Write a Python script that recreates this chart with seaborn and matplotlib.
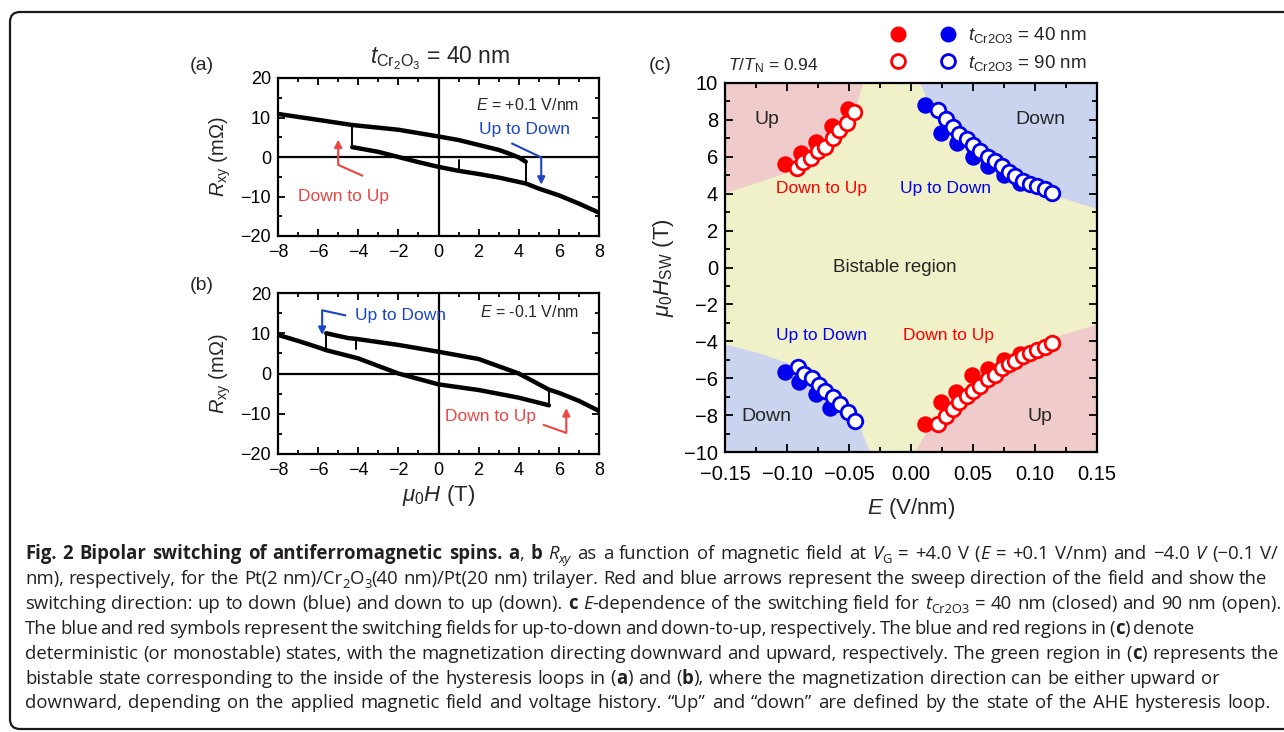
import re
import numpy as np
import pandas as pd
import matplotlib
matplotlib.use("Agg")
import matplotlib.pyplot as plt
import seaborn as sns
from matplotlib.lines import Line2D
from matplotlib.legend_handler import HandlerTuple
from matplotlib.patches import FancyBboxPatch
from matplotlib.transforms import IdentityTransform
from matplotlib.ticker import MultipleLocator
from matplotlib.font_manager import FontProperties

# ---------------- data: panel (a)  E = +0.1 V/nm ----------------
a_upper_H = [-8, -6, -4.3, -2, 0, 1, 2, 3, 3.5, 4, 4.35]
a_upper_R = [10.9, 9.4, 8.1, 6.9, 5.2, 4.3, 3.05, 1.8, 0.9, -0.1, -1.2]
a_lower_H = [-4.3, -3, -2, -1, 0, 1, 2, 3, 4.35, 5, 6, 7, 8]
a_lower_R = [2.5, 1.3, 0.0, -1.3, -2.5, -3.5, -4.3, -5.2, -6.7, -8.0, -9.7, -11.8, -14.1]
a_spike_H = [1, 1]
a_spike_R = [-3.5, -0.7]

# ---------------- data: panel (b)  E = -0.1 V/nm ----------------
b_upper_H = [-5.6, -4.5, -4.1, -2, 0, 2, 4, 5.5, 6, 7, 8]
b_upper_R = [10.0, 8.8, 8.6, 7.1, 5.4, 3.6, 0.0, -4.0, -4.8, -6.8, -9.3]
b_lower_H = [-8, -7, -6, -5.6, -4, -2, 0, 2, 4, 5.5]
b_lower_R = [9.6, 8.1, 6.5, 5.8, 3.75, 0.0, -2.7, -4.1, -6.0, -7.9]
b_spike_H = [-4.1, -4.1]
b_spike_R = [8.6, 6.1]

# ---------------- data: panel (c) switching fields ----------------
top_red40_E = [-0.102, -0.089, -0.077, -0.064, -0.051]
top_red40_H = [5.6, 6.2, 6.8, 7.65, 8.6]
top_red90_E = [-0.092, -0.087, -0.081, -0.075, -0.069, -0.063, -0.058, -0.052, -0.046]
top_red90_H = [5.4, 5.7, 5.95, 6.3, 6.55, 7.0, 7.45, 7.85, 8.45]
top_blue40_E = [0.011, 0.024, 0.037, 0.050, 0.062, 0.075, 0.088]
top_blue40_H = [8.8, 7.3, 6.75, 6.0, 5.5, 5.0, 4.6]
top_blue90_E = [0.022, 0.028, 0.034, 0.039, 0.045, 0.050, 0.056, 0.062, 0.068,
                0.073, 0.079, 0.084, 0.090, 0.096, 0.102, 0.108, 0.114]
top_blue90_H = [8.55, 8.05, 7.6, 7.25, 6.95, 6.65, 6.3, 6.0, 5.75,
                5.5, 5.15, 4.95, 4.7, 4.55, 4.4, 4.25, 4.05]
bot_blue40_E = [-0.102, -0.090, -0.077, -0.065]
bot_blue40_H = [-5.65, -6.2, -6.85, -7.6]
bot_blue90_E = [-0.091, -0.086, -0.080, -0.074, -0.069, -0.063, -0.057, -0.051, -0.045]
bot_blue90_H = [-5.4, -5.75, -6.0, -6.35, -6.7, -7.0, -7.4, -7.85, -8.3]
bot_red40_E = [0.011, 0.024, 0.036, 0.049, 0.062, 0.075, 0.088]
bot_red40_H = [-8.5, -7.3, -6.75, -5.85, -5.5, -5.0, -4.7]
bot_red90_E = [0.022, 0.028, 0.034, 0.039, 0.045, 0.050, 0.056, 0.062, 0.068,
               0.073, 0.079, 0.084, 0.090, 0.096, 0.102, 0.108, 0.114]
bot_red90_H = [-8.5, -8.05, -7.65, -7.3, -6.95, -6.7, -6.4, -6.05, -5.8,
               -5.45, -5.25, -5.05, -4.8, -4.65, -4.45, -4.3, -4.1]

# region boundaries in (c)
up_left_E = [-0.15, -0.125, -0.103, -0.084, -0.068, -0.055, -0.046, -0.039]
up_left_H = [4.05, 4.6, 5.1, 5.65, 6.3, 7.3, 8.4, 10]
up_right_E = [0.007, 0.0155, 0.029, 0.045, 0.064, 0.083, 0.104, 0.128, 0.15]
up_right_H = [10, 8.75, 7.45, 6.4, 5.5, 4.75, 4.15, 3.65, 3.2]
lo_left_E = [-0.15, -0.124, -0.100, -0.079, -0.060, -0.046, -0.0335]
lo_left_H = [-4.15, -4.6, -5.15, -5.85, -6.8, -7.85, -10]
lo_right_E = [0.0025, 0.013, 0.029, 0.050, 0.072, 0.094, 0.118, 0.15]
lo_right_H = [-10, -8.8, -7.5, -6.25, -5.35, -4.45, -3.7, -3.05]

ab_xticks = [-8, -6, -4, -2, 0, 2, 4, 6, 8]
ab_yticks = [-20, -10, 0, 10, 20]
c_xticks = [-0.15, -0.10, -0.05, 0.00, 0.05, 0.10, 0.15]
c_yticks = [-10, -8, -6, -4, -2, 0, 2, 4, 6, 8, 10]

# ---------------- style ----------------
sns.set_theme(style="ticks")
plt.rcParams['font.family'] = ['Liberation Sans', 'DejaVu Sans']
plt.rcParams['mathtext.fontset'] = 'custom'
plt.rcParams['mathtext.rm'] = 'Liberation Sans'
plt.rcParams['mathtext.it'] = 'Liberation Sans:italic'
plt.rcParams['mathtext.bf'] = 'Liberation Sans:bold'
plt.rcParams['axes.unicode_minus'] = True

W, H = 1284, 732
fig = plt.figure(figsize=(W / 100, H / 100), dpi=100)

RED_A = '#EE4444'
BLUE_A = '#1B45C4'
RED_C = '#FF0000'
BLUE_C = '#0000EE'


def px_axes(l, t, r, b):
    return fig.add_axes([l / W, 1 - b / H, (r - l) / W, (b - t) / H])


def style_axes(ax, major_len=5, minor_len=3, size=12, xpad=4, ypad=4):
    for s in ax.spines.values():
        s.set_linewidth(1.6)
        s.set_color('black')
    ax.tick_params(which='both', direction='in', top=True, right=True,
                   width=1.3, colors='black', labelsize=size)
    ax.tick_params(axis='x', which='both', pad=xpad)
    ax.tick_params(axis='y', which='both', pad=ypad)
    ax.tick_params(which='major', length=major_len)
    ax.tick_params(which='minor', length=minor_len)


# ---------------- panels (a), (b) ----------------
ax_a = px_axes(278, 78, 599, 236)
ax_b = px_axes(278, 293, 599, 454)

panels = [
    (ax_a, a_upper_H, a_upper_R, a_lower_H, a_lower_R, a_spike_H, a_spike_R,
     [(2, 0), (10, 8)]),
    (ax_b, b_upper_H, b_upper_R, b_lower_H, b_lower_R, b_spike_H, b_spike_R,
     [(0, 3), (7, 9)]),
]
for ax, uh, ur, lh, lr, sh, sr, jumps in panels:
    ax.axhline(0, color='black', lw=1.6, zorder=1)
    ax.axvline(0, color='black', lw=1.6, zorder=1)
    sns.lineplot(x=uh, y=ur, sort=False, estimator=None, color='black', lw=3.2, ax=ax)
    sns.lineplot(x=lh, y=lr, sort=False, estimator=None, color='black', lw=3.2, ax=ax)
    sns.lineplot(x=sh, y=sr, sort=False, estimator=None, color='black', lw=1.4, ax=ax)
    for iu, il in jumps:
        # thin vertical switching step between the two branches
        sns.lineplot(x=[uh[iu], lh[il]], y=[ur[iu], lr[il]], sort=False, estimator=None,
                     color='black', lw=1.4, ax=ax)
    ax.set_xlim(-8, 8)
    ax.set_ylim(-20, 20)
    ax.set_xticks(ab_xticks)
    ax.set_yticks(ab_yticks)
    ax.xaxis.set_minor_locator(MultipleLocator(1))
    ax.yaxis.set_minor_locator(MultipleLocator(5))
    style_axes(ax, size=13, xpad=6, ypad=5)
    ax.set_ylabel(r'$R_{\mathrm{xy}}$ (m$\Omega$)', fontsize=14.5, labelpad=5)

ax_b.set_xlabel(r'$\mu_0H$ (T)', fontsize=16, labelpad=3)


def bent_arrow(ax, p0, p1, p2, color):
    ax.plot([p0[0], p1[0]], [p0[1], p1[1]], color=color, lw=1.5, solid_capstyle='butt')
    ax.annotate('', xy=p2, xytext=p1,
                arrowprops=dict(arrowstyle='-|>', color=color, lw=1.5,
                                mutation_scale=11, shrinkA=0, shrinkB=0))


bent_arrow(ax_a, (-3.76, -4.8), (-5.0, -2.0), (-5.0, 4.4), RED_A)
bent_arrow(ax_a, (3.63, 3.5), (5.12, -0.1), (5.12, -7.0), BLUE_A)
ax_a.text(-4.75, -10.1, 'Down to Up', color=RED_A, fontsize=12.5, ha='center', va='center')
ax_a.text(4.3, 7.0, 'Up to Down', color=BLUE_A, fontsize=12.5, ha='center', va='center')
ax_a.text(7.0, 13.2, r'$E$ = +0.1 V/nm', fontsize=11.5, ha='right', va='center')

bent_arrow(ax_b, (-4.6, 14.4), (-5.8, 15.7), (-5.8, 9.6), BLUE_A)
bent_arrow(ax_b, (5.2, -12.7), (6.37, -14.75), (6.37, -8.6), RED_A)
ax_b.text(-1.9, 14.4, 'Up to Down', color=BLUE_A, fontsize=12.5, ha='center', va='center')
ax_b.text(2.6, -10.6, 'Down to Up', color=RED_A, fontsize=12.5, ha='center', va='center')
ax_b.text(7.0, 15.2, r'$E$ = -0.1 V/nm', fontsize=11.5, ha='right', va='center')

fig.text(440 / W, 1 - 58 / H, r'$t_{\mathrm{Cr_2O_3}}$ = 40 nm', fontsize=16.5, ha='center', va='center')
fig.text(202 / W, 1 - 65 / H, '(a)', fontsize=14, ha='center', va='center')
fig.text(202 / W, 1 - 285 / H, '(b)', fontsize=14, ha='center', va='center')

# ---------------- panel (c) ----------------
ax_c = px_axes(725, 83, 1097, 452)
ax_c.set_facecolor('#F1F1C9')
ax_c.fill_between(up_left_E, up_left_H, 10, color='#F0CBCB', lw=0, zorder=0)
ax_c.fill_between(up_right_E, up_right_H, 10, color='#CAD4EF', lw=0, zorder=0)
ax_c.fill_between(lo_left_E, -10, lo_left_H, color='#CAD4EF', lw=0, zorder=0)
ax_c.fill_between(lo_right_E, -10, lo_right_H, color='#F0CBCB', lw=0, zorder=0)

closed_kw = dict(s=140, linewidth=0, zorder=3, legend=False)
open_kw = dict(s=110, linewidth=2.0, zorder=4, legend=False, color='white')
for E, Hs, c in [(top_red40_E, top_red40_H, RED_C), (bot_red40_E, bot_red40_H, RED_C),
                 (top_blue40_E, top_blue40_H, BLUE_C), (bot_blue40_E, bot_blue40_H, BLUE_C)]:
    sns.scatterplot(x=E, y=Hs, color=c, ax=ax_c, **closed_kw)
for E, Hs, c in [(top_red90_E, top_red90_H, RED_C), (bot_red90_E, bot_red90_H, RED_C),
                 (top_blue90_E, top_blue90_H, BLUE_C), (bot_blue90_E, bot_blue90_H, BLUE_C)]:
    sns.scatterplot(x=E, y=Hs, edgecolor=c, ax=ax_c, **open_kw)

ax_c.set_xlim(-0.15, 0.15)
ax_c.set_ylim(-10, 10)
ax_c.set_xticks(c_xticks)
ax_c.set_yticks(c_yticks)
ax_c.set_xticklabels([f'{v:.2f}'.replace('-', '\u2212') for v in c_xticks])
ax_c.xaxis.set_minor_locator(MultipleLocator(0.025))
ax_c.yaxis.set_minor_locator(MultipleLocator(1))
style_axes(ax_c, major_len=6, minor_len=3.5, size=14.5, xpad=9, ypad=5)
ax_c.set_xlabel(r'$E$ (V/nm)', fontsize=16, labelpad=9)
ax_c.set_ylabel(r'$\mu_0H_{\mathrm{SW}}$ (T)', fontsize=16, labelpad=6)

ax_c.text(-0.116, 8.0, 'Up', fontsize=14, ha='center', va='center')
ax_c.text(0.104, 8.0, 'Down', fontsize=14, ha='center', va='center')
ax_c.text(-0.072, 4.3, 'Down to Up', color=RED_C, fontsize=12.5, ha='center', va='center')
ax_c.text(0.028, 4.3, 'Up to Down', color=BLUE_C, fontsize=12.5, ha='center', va='center')
ax_c.text(-0.013, 0.0, 'Bistable region', fontsize=13.5, ha='center', va='center')
ax_c.text(-0.072, -3.67, 'Up to Down', color=BLUE_C, fontsize=12.5, ha='center', va='center')
ax_c.text(0.030, -3.67, 'Down to Up', color=RED_C, fontsize=12.5, ha='center', va='center')
ax_c.text(-0.117, -8.05, 'Down', fontsize=14, ha='center', va='center')
ax_c.text(0.104, -8.05, 'Up', fontsize=14, ha='center', va='center')

fig.text(660 / W, 1 - 66 / H, '(c)', fontsize=14, ha='center', va='center')
fig.text(728 / W, 1 - 66 / H, r'$T/T_{\mathrm{N}}$ = 0.94', fontsize=12.5, ha='left', va='center')

h_rc = Line2D([], [], marker='o', ls='', ms=11.5, mfc=RED_C, mec=RED_C, mew=0)
h_bc = Line2D([], [], marker='o', ls='', ms=11.5, mfc=BLUE_C, mec=BLUE_C, mew=0)
h_ro = Line2D([], [], marker='o', ls='', ms=10, mfc='white', mec=RED_C, mew=2)
h_bo = Line2D([], [], marker='o', ls='', ms=10, mfc='white', mec=BLUE_C, mew=2)
fig.legend([(h_rc, h_bc), (h_ro, h_bo)],
           [r'$t_{\mathrm{Cr2O3}}$ = 40 nm', r'$t_{\mathrm{Cr2O3}}$ = 90 nm'],
           handler_map={tuple: HandlerTuple(ndivide=None, pad=1.55)},
           loc='center left', bbox_to_anchor=(888 / W, 1 - 49 / H),
           frameon=False, fontsize=13.5, handlelength=3.75, handletextpad=0.5,
           labelspacing=0.42, borderpad=0, borderaxespad=0)

# ---------------- frame ----------------
frame = FancyBboxPatch((10, 3), 1320, 717, boxstyle='round,pad=0,rounding_size=10',
                       transform=IdentityTransform(), fill=False, ec='#1a1a1a', lw=1.6)
fig.patches.append(frame)

# ---------------- caption ----------------
cap_lines = [
    [("Fig. 2 Bipolar switching of antiferromagnetic spins.", 'b'), (" a", 'b'), (",", 'r'),
     (" b", 'b'), (" R", 'i'), ("xy", 'isub'), (" as a function of magnetic field at", 'r'),
     (" V", 'i'), ("G", 'sub'), (" = +4.0 V (", 'r'), ("E", 'i'),
     (" = +0.1 V/nm) and \u22124.0", 'r'), (" V", 'i'), (" (\u22120.1 V/", 'r')],
    [("nm), respectively, for the Pt(2 nm)/Cr", 'r'), ("2", 'sub'), ("O", 'r'), ("3", 'sub'),
     ("(40 nm)/Pt(20 nm) trilayer. Red and blue arrows represent the sweep direction of the field and show the", 'r')],
    [("switching direction: up to down (blue) and down to up (down).", 'r'), (" c", 'b'), (" E", 'i'),
     ("-dependence of the switching field for", 'r'), (" t", 'i'), ("Cr2O3", 'sub'),
     (" = 40 nm (closed) and 90 nm (open).", 'r')],
    [("The blue and red symbols represent the switching fields for up-to-down and down-to-up, respectively. The blue and red regions in (", 'r'),
     ("c", 'b'), (") denote", 'r')],
    [("deterministic (or monostable) states, with the magnetization directing downward and upward, respectively. The green region in (", 'r'),
     ("c", 'b'), (") represents the", 'r')],
    [("bistable state corresponding to the inside of the hysteresis loops in (", 'r'), ("a", 'b'),
     (") and (", 'r'), ("b", 'b'), ("), where the magnetization direction can be either upward or", 'r')],
    [("downward, depending on the applied magnetic field and voltage history. \u201cUp\u201d and \u201cdown\u201d are defined by the state of the AHE hysteresis loop.", 'r')],
]
cap_line_end_px = [1278, 1267, 1281, 1194, 1279, 1220, 1271]

CAP_SIZE = 13.35
CAP_X0 = 25.0
renderer = fig.canvas.get_renderer()


def seg_style(st):
    size = CAP_SIZE
    weight, style, dy = 'normal', 'normal', 0
    if st == 'b':
        weight = 'bold'
    elif st == 'i':
        style = 'italic'
    elif st in ('sub', 'isub'):
        size = CAP_SIZE * 0.7
        dy = -4
        if st == 'isub':
            style = 'italic'
    prop = FontProperties(family=['Open Sans', 'DejaVu Sans'], size=size,
                          weight=weight, style=style)
    return prop, dy


def text_w(s, prop):
    w, _, _ = renderer.get_text_width_height_descent(s, prop, ismath=False)
    return w


for i, segs in enumerate(cap_lines):
    # tokenise into words and single spaces
    tokens = []
    for s, st in segs:
        prop, dy = seg_style(st)
        for piece in re.split(r'( )', s):
            if piece == '':
                continue
            tokens.append((piece, prop, dy))
    space_w = {}
    natural = 0.0
    n_sp = 0
    for piece, prop, dy in tokens:
        if piece == ' ':
            sw = text_w('x x', prop) - text_w('xx', prop)
            natural += sw
            n_sp += 1
        else:
            natural += text_w(piece, prop)
    extra = (cap_line_end_px[i] - CAP_X0 - natural) / max(n_sp, 1)
    x = CAP_X0
    y_base = H - (559 + i * 24.9)
    for piece, prop, dy in tokens:
        if piece == ' ':
            x += text_w('x x', prop) - text_w('xx', prop) + extra
            continue
        fig.text(x / W, (y_base + dy) / H, piece, fontproperties=prop, ha='left',
                 va='baseline', color='#231F20')
        x += text_w(piece, prop)

fig.savefig('out.png', dpi=100)
